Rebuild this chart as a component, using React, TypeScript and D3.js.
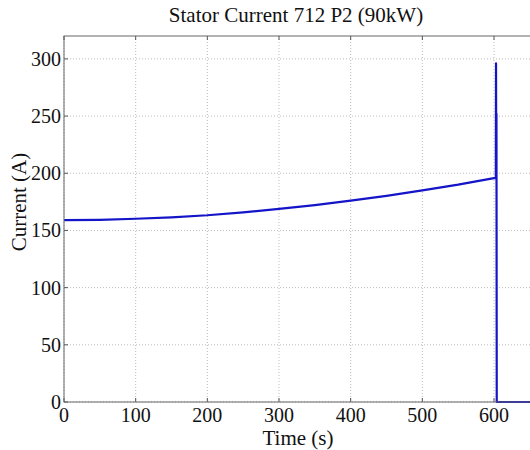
import React from "react";
import * as d3 from "d3";

const title = "Stator Current 712 P2 (90kW)";
const xLabel = "Time (s)";
const yLabel = "Current (A)";
const xTicks = [0, 100, 200, 300, 400, 500, 600, 700];
const yTicks = [0, 50, 100, 150, 200, 250, 300];
const time = [0, 50, 100, 150, 200, 250, 300, 350, 400, 450, 500, 550, 598, 602.5, 602.8, 603.1, 603.4, 603.8, 700];
const current = [159, 159.3, 160.2, 161.5, 163.3, 165.8, 168.8, 172.2, 176, 180.2, 185, 190, 195.5, 196, 296, 200, 252, 0, 0];

export default function App() {
  const W = 530, H = 450;
  const m = { left: 64, top: 36, bottom: 402 };
  const x = d3.scaleLinear().domain([0, 700]).range([m.left, m.left + 700 * 0.7167]);
  const y = d3.scaleLinear().domain([0, 320]).range([m.bottom, m.top]);
  const right = x(700);
  const line = d3.line<number>().x((_, i) => x(time[i])).y((d) => y(d));
  const font = "'Liberation Serif', 'Times New Roman', serif";
  return (
    <svg width={W} height={H} style={{ display: "block", position: "absolute", left: 0, top: 0, overflow: "hidden", background: "#fff" }}>
      <rect x={0} y={0} width={W} height={H} fill="#fff" />
      {xTicks.map((t) => (
        <line key={"gx" + t} x1={x(t)} x2={x(t)} y1={m.top} y2={m.bottom} stroke="#bbb" strokeWidth={1} strokeDasharray="1,2" />
      ))}
      {yTicks.map((t) => (
        <line key={"gy" + t} x1={m.left} x2={right} y1={y(t)} y2={y(t)} stroke="#bbb" strokeWidth={1} strokeDasharray="1,2" />
      ))}
      {xTicks.map((t) => (
        <g key={"tx" + t}>
          <line x1={x(t)} x2={x(t)} y1={m.bottom} y2={m.bottom - 4} stroke="#555" />
          <line x1={x(t)} x2={x(t)} y1={m.top} y2={m.top + 4} stroke="#555" />
        </g>
      ))}
      {yTicks.map((t) => (
        <line key={"ty" + t} x1={m.left} x2={m.left + 4} y1={y(t)} y2={y(t)} stroke="#555" />
      ))}
      <path d={line(current) || ""} fill="none" stroke="#1414c8" strokeWidth={2.2} strokeLinejoin="round" />
      <rect x={m.left} y={m.top} width={right - m.left} height={m.bottom - m.top} fill="none" stroke="#666" strokeWidth={1} />
      {xTicks.filter((t) => x(t) < W).map((t) => (
        <text key={"lx" + t} x={x(t)} y={m.bottom + 20} textAnchor="middle" fontFamily={font} fontSize={20} fill="#111">{t}</text>
      ))}
      {yTicks.map((t) => (
        <text key={"ly" + t} x={m.left - 3} y={y(t) + 7} textAnchor="end" fontFamily={font} fontSize={20} fill="#111">{t}</text>
      ))}
      <text x={296} y={22} textAnchor="middle" fontFamily={font} fontSize={21} fill="#111">{title}</text>
      <text x={298} y={445} textAnchor="middle" fontFamily={font} fontSize={21} fill="#111">{xLabel}</text>
      <text transform={`translate(26, 202) rotate(-90)`} textAnchor="middle" fontFamily={font} fontSize={21} fill="#111">{yLabel}</text>
    </svg>
  );
}
